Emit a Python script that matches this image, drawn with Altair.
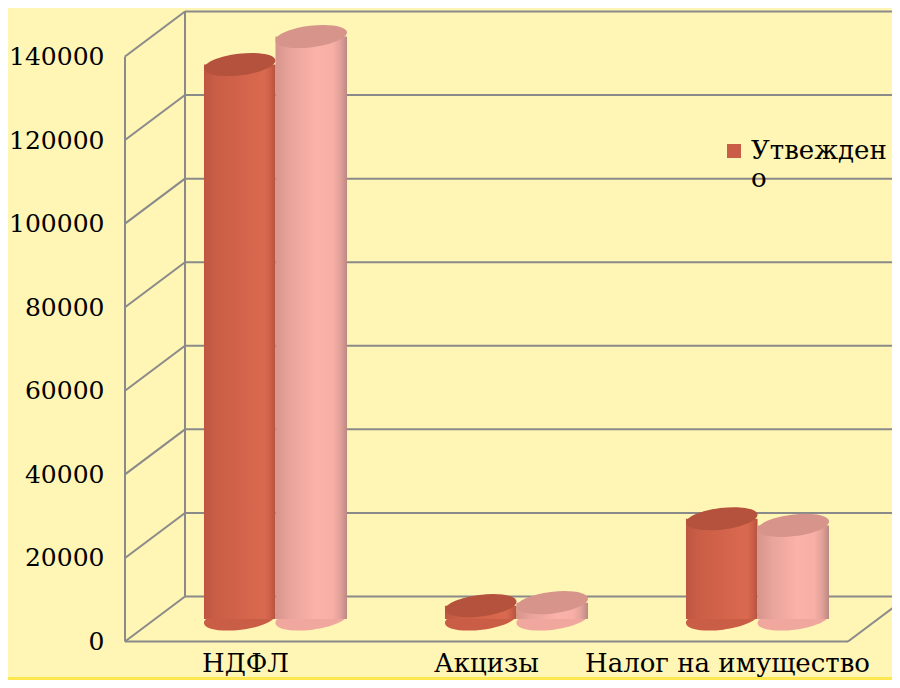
import altair as alt
import pandas as pd

# ---- data ----
categories = ["НДФЛ", "Акцизы", "Налог на имущество"]
series_names = ["Утверждено", "Исполнено"]
approved = [132700, 3200, 24000]
executed = [139400, 3900, 22400]
tick_values = [0, 20000, 40000, 60000, 80000, 100000, 120000, 140000]

rows = []
for c, a, e in zip(categories, approved, executed):
    rows.append({"cat": c, "series": series_names[0], "value": a})
    rows.append({"cat": c, "series": series_names[1], "value": e})
df = pd.DataFrame(rows)
ticks = pd.DataFrame({"v": tick_values})

# ---- style ----
W, H = 723, 585
DX, DY = 30, 22.5          # half of the 3-D depth offset
FONT = "DejaVu Serif"
BG = "#FFF5B5"
STRIP = "#FFE74F"
GRID = "#8A8A8A"
ELLIPSE = ("M -1 0 C -1 -0.166 -0.552 -0.3 0 -0.3 C 0.552 -0.3 1 -0.166 1 0 "
           "C 1 0.166 0.552 0.3 0 0.3 C -0.552 0.3 -1 0.166 -1 0 Z")
ESIZE = 72 * 72
TILT = 353


def grad(stops):
    return alt.LinearGradient(
        gradient="linear",
        stops=[alt.GradientStop(color=c, offset=o) for o, c in stops],
        x1=0, x2=1, y1=0, y2=0,
    )


body_grad = {
    series_names[0]: grad([(0, "#BD5641"), (0.15, "#C95D46"), (0.55, "#D4644B"),
                           (0.85, "#D96A4F"), (0.93, "#CB5F48"), (1, "#B5523F")]),
    series_names[1]: grad([(0, "#D6958D"), (0.2, "#E8A39A"), (0.55, "#FBB2A8"),
                           (0.8, "#F8AFA5"), (0.9, "#E2A29A"), (1, "#BD8882")]),
}

yscale = alt.Scale(domain=[0, 140000], nice=False, zero=True)
yaxis = alt.Axis(title=None, values=tick_values, offset=DX, labelPadding=21,
                 labelOffset=DY, domain=False, ticks=False, grid=False,
                 labelFontSize=25, labelColor="black", format="d")
xscale = alt.Scale(domain=categories, paddingInner=0, paddingOuter=0)
xaxis = alt.Axis(title=None, labelOffset=-DX, labelPadding=31, domain=False,
                 ticks=False, labelAngle=0, labelFontSize=26, labelColor="black",
                 labelBaseline="top", labelLimit=500)
xoscale = alt.Scale(domain=series_names, paddingInner=0, paddingOuter=0.685)

X = alt.X("cat:N", scale=xscale, axis=xaxis)
XO = alt.XOffset("series:N", scale=xoscale)
Y = alt.Y("value:Q", scale=yscale, axis=yaxis)

# ---- frame (walls, floor, grid) ----
strip = alt.Chart(ticks).transform_aggregate(n="count()").mark_rect(color=STRIP).encode(
    x=alt.value(-150), x2=alt.value(W + 40), y=alt.value(643), y2=alt.value(700))

grid = alt.Chart(ticks).mark_rule(color=GRID, strokeWidth=2, yOffset=-DY).encode(
    y=alt.Y("v:Q", scale=yscale, axis=yaxis), x=alt.value(DX), x2=alt.value(W + 40))

diag = alt.Chart(ticks).mark_rule(color=GRID, strokeWidth=2, yOffset=DY, y2Offset=-DY).encode(
    y=alt.Y("v:Q", scale=yscale, axis=yaxis), y2=alt.Y2("v:Q"),
    x=alt.value(-DX), x2=alt.value(DX))

front_axis = alt.Chart(ticks).mark_rule(color=GRID, strokeWidth=2, yOffset=DY, y2Offset=DY).encode(
    y=alt.Y("min(v):Q", scale=yscale, axis=yaxis), y2=alt.Y2("max(v)"), x=alt.value(-DX))

back_axis = alt.Chart(ticks).mark_rule(color=GRID, strokeWidth=2, yOffset=-DY, y2Offset=-DY).encode(
    y=alt.Y("min(v):Q", scale=yscale, axis=yaxis), y2=alt.Y2("max(v)"), x=alt.value(DX))

floor_front = alt.Chart(ticks).mark_rule(color=GRID, strokeWidth=2, yOffset=DY).encode(
    y=alt.Y("min(v):Q", scale=yscale, axis=yaxis), x=alt.value(-DX), x2=alt.value(W - DX))

floor_right = alt.Chart(ticks).mark_rule(color=GRID, strokeWidth=2, yOffset=DY, y2Offset=-DY).encode(
    y=alt.Y("min(v):Q", scale=yscale, axis=yaxis), y2=alt.Y2("min(v)"),
    x=alt.value(W - DX), x2=alt.value(W + DX))

# ---- cylinders ----
legend = alt.Legend(title=None, values=[series_names[0]], orient="none",
                    legendX=566, legendY=104, symbolType="square", symbolSize=196,
                    labelFontSize=26, labelFont=FONT, labelColor="black", labelOffset=4,
                    symbolStrokeWidth=0, padding=0,
                    labelExpr="datum.label == 'Утверждено' ? ['Утвежден', 'о'] : datum.label")

cyl_layers = []
for s in series_names:
    base = alt.Chart(df).transform_filter(alt.datum.series == s)
    bottom = base.mark_point(shape=ELLIPSE, filled=True, size=ESIZE, angle=TILT,
                             opacity=1, strokeWidth=0).encode(
        x=X, xOffset=XO, y=alt.Y(datum=0, scale=yscale, axis=yaxis),
        color=alt.Color("series:N",
                        scale=alt.Scale(domain=series_names, range=["#C95D46", "#F0A79D"]),
                        legend=legend))
    body = base.mark_bar(color=body_grad[s], strokeWidth=0).encode(x=X, xOffset=XO, y=Y)
    top = base.mark_point(shape=ELLIPSE, filled=True, size=ESIZE, angle=TILT,
                          opacity=1, strokeWidth=0).encode(
        x=X, xOffset=XO, y=Y,
        fill=alt.Fill("series:N",
                      scale=alt.Scale(domain=series_names, range=["#B4523D", "#D6948B"]),
                      legend=None))
    cyl_layers += [bottom, body, top]

chart = alt.layer(strip, grid, diag, front_axis, back_axis, floor_front, floor_right,
                  *cyl_layers).properties(
    width=W, height=H,
    autosize=alt.AutoSizeParams(type="none"),
    padding={"left": 147, "top": 26, "right": 14, "bottom": 61},
    background=BG,
).configure_view(stroke=None).configure_axis(labelFont=FONT).configure_legend(labelFont=FONT)

chart.save("out.html", embed_options={"renderer": "svg", "actions": False})
